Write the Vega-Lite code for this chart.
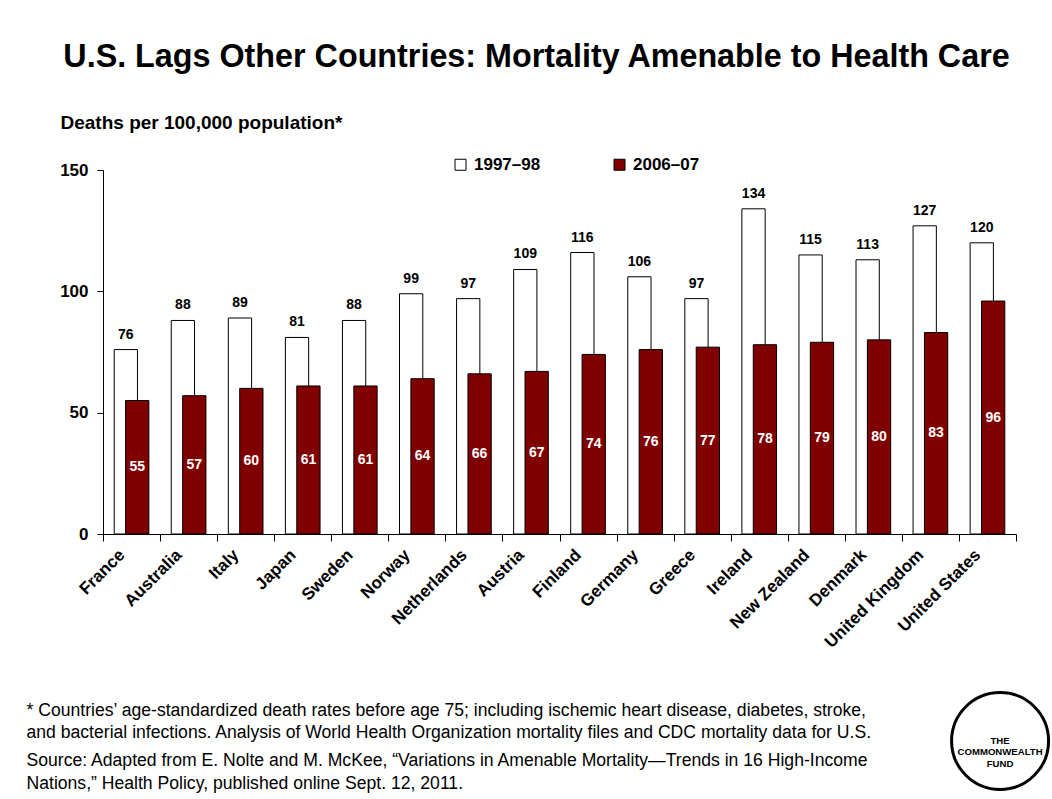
{
  "$schema": "https://vega.github.io/schema/vega-lite/v6.json",
  "width": 913,
  "height": 364,
  "autosize": {"type": "none"},
  "padding": {"left": 103, "top": 170, "right": 36, "bottom": 265},
  "background": "white",
  "config": {
    "font": "Liberation Sans",
    "view": {"stroke": null},
    "axis": {"labelColor": "black", "titleColor": "black", "domainColor": "black", "tickColor": "black", "grid": false}
  },
  "title": {
    "text": "U.S. Lags Other Countries: Mortality Amenable to Health Care",
    "fontSize": 32.3,
    "fontWeight": "bold",
    "color": "black",
    "anchor": "middle",
    "dx": -23,
    "dy": -36
  },
  "data": {
    "values": [
      {"country": "France", "period": "1997–98", "value": 76},
      {"country": "Australia", "period": "1997–98", "value": 88},
      {"country": "Italy", "period": "1997–98", "value": 89},
      {"country": "Japan", "period": "1997–98", "value": 81},
      {"country": "Sweden", "period": "1997–98", "value": 88},
      {"country": "Norway", "period": "1997–98", "value": 99},
      {"country": "Netherlands", "period": "1997–98", "value": 97},
      {"country": "Austria", "period": "1997–98", "value": 109},
      {"country": "Finland", "period": "1997–98", "value": 116},
      {"country": "Germany", "period": "1997–98", "value": 106},
      {"country": "Greece", "period": "1997–98", "value": 97},
      {"country": "Ireland", "period": "1997–98", "value": 134},
      {"country": "New Zealand", "period": "1997–98", "value": 115},
      {"country": "Denmark", "period": "1997–98", "value": 113},
      {"country": "United Kingdom", "period": "1997–98", "value": 127},
      {"country": "United States", "period": "1997–98", "value": 120},
      {"country": "France", "period": "2006–07", "value": 55},
      {"country": "Australia", "period": "2006–07", "value": 57},
      {"country": "Italy", "period": "2006–07", "value": 60},
      {"country": "Japan", "period": "2006–07", "value": 61},
      {"country": "Sweden", "period": "2006–07", "value": 61},
      {"country": "Norway", "period": "2006–07", "value": 64},
      {"country": "Netherlands", "period": "2006–07", "value": 66},
      {"country": "Austria", "period": "2006–07", "value": 67},
      {"country": "Finland", "period": "2006–07", "value": 74},
      {"country": "Germany", "period": "2006–07", "value": 76},
      {"country": "Greece", "period": "2006–07", "value": 77},
      {"country": "Ireland", "period": "2006–07", "value": 78},
      {"country": "New Zealand", "period": "2006–07", "value": 79},
      {"country": "Denmark", "period": "2006–07", "value": 80},
      {"country": "United Kingdom", "period": "2006–07", "value": 83},
      {"country": "United States", "period": "2006–07", "value": 96}
    ]
  },
  "layer": [
    {
      "layer": [
        {
          "transform": [{"filter": "datum.period === '1997–98'"}],
          "mark": {"type": "bar", "width": {"band": 0.408}, "xOffset": -5.7, "stroke": "black", "strokeWidth": 1},
          "encoding": {
            "x": {
              "field": "country", "type": "nominal", "sort": null,
              "scale": {"paddingInner": 0, "paddingOuter": 0},
              "axis": {
                "title": ["* Countries’ age-standardized death rates before age 75; including ischemic heart disease, diabetes, stroke,", "and bacterial infections. Analysis of World Health Organization mortality files and CDC mortality data for U.S."],
                "titleFontSize": 17.6, "titleFontWeight": "normal", "titleAlign": "left", "titleAnchor": "start",
                "titleX": -77, "titleY": 181, "titleBaseline": "alphabetic", "titleLineHeight": 22.5,
                "labelAngle": -45, "labelAlign": "right", "labelBaseline": "middle",
                "labelFontSize": 17, "labelFontWeight": "bold", "labelOffset": -10, "labelPadding": 11,
                "tickBand": "extent", "tickSize": 7
              }
            },
            "y": {
              "field": "value", "type": "quantitative",
              "scale": {"domain": [0, 150], "nice": false},
              "axis": {
                "values": [0, 50, 100, 150],
                "title": "Deaths per 100,000 population*",
                "titleAngle": 0, "titleAlign": "left", "titleBaseline": "alphabetic",
                "titleX": -43, "titleY": -42, "titleFontSize": 19, "titleFontWeight": "bold",
                "labelFontSize": 17, "labelFontWeight": "bold", "labelPadding": 9, "tickSize": 6
              }
            },
            "color": {
              "field": "period", "type": "nominal",
              "scale": {"domain": ["1997–98", "2006–07"], "range": ["white", "#800000"]},
              "legend": {
                "orient": "none", "legendX": 349, "legendY": -14, "direction": "horizontal",
                "title": null, "symbolType": "square", "symbolSize": 121,
                "symbolStrokeColor": "black", "symbolStrokeWidth": 1,
                "labelFontSize": 17, "labelFontWeight": "bold", "labelColor": "black",
                "columnPadding": 70, "labelOffset": 5, "padding": 0
              }
            }
          }
        },
        {
          "transform": [{"filter": "datum.period === '2006–07'"}],
          "mark": {"type": "bar", "width": {"band": 0.408}, "xOffset": 5.7, "stroke": "black", "strokeWidth": 1},
          "encoding": {
            "x": {"field": "country", "type": "nominal", "sort": null},
            "y": {"field": "value", "type": "quantitative"},
            "color": {"field": "period", "type": "nominal"}
          }
        },
        {
          "transform": [{"filter": "datum.period === '1997–98'"}],
          "mark": {"type": "text", "xOffset": -5.7, "dy": -11, "baseline": "alphabetic", "fontSize": 14, "fontWeight": "bold", "color": "black"},
          "encoding": {
            "x": {"field": "country", "type": "nominal", "sort": null},
            "y": {"field": "value", "type": "quantitative"},
            "text": {"field": "value", "type": "quantitative"}
          }
        },
        {
          "transform": [{"filter": "datum.period === '2006–07'"}, {"calculate": "datum.value / 2", "as": "mid"}],
          "mark": {"type": "text", "xOffset": 5.7, "baseline": "middle", "fontSize": 14, "fontWeight": "bold", "color": "white"},
          "encoding": {
            "x": {"field": "country", "type": "nominal", "sort": null},
            "y": {"field": "mid", "type": "quantitative"},
            "text": {"field": "value", "type": "quantitative"}
          }
        }
      ]
    },
    {
      "data": {"values": [{"org": "THE COMMONWEALTH FUND"}]},
      "layer": [
        {
          "mark": {"type": "point", "shape": "circle", "size": 9409, "filled": false, "stroke": "black", "strokeWidth": 3, "opacity": 1, "xOffset": 12.6},
          "encoding": {
            "x": {"datum": "United States", "type": "nominal"},
            "y": {
              "datum": -85.3, "type": "quantitative",
              "scale": {"domain": [0, 150], "nice": false},
              "axis": {
                "orient": "right", "labels": false, "ticks": false, "domain": false, "grid": false,
                "title": ["Source: Adapted from E. Nolte and M. McKee, “Variations in Amenable Mortality—Trends in 16 High-Income", "Nations,” Health Policy, published online Sept. 12, 2011."],
                "titleAngle": 0, "titleAlign": "left", "titleAnchor": "start", "titleBaseline": "alphabetic",
                "titleX": -990, "titleY": 595, "titleFontSize": 17.6, "titleFontWeight": "normal", "titleLineHeight": 23
              }
            }
          }
        },
        {
          "mark": {"type": "text", "text": ["THE", "COMMONWEALTH", "FUND"], "fontSize": 9.6, "fontWeight": "bold", "lineHeight": 11.5, "baseline": "middle", "align": "center", "xOffset": 12.6, "color": "black"},
          "encoding": {
            "x": {"datum": "United States", "type": "nominal"},
            "y": {"datum": -85.3, "type": "quantitative"}
          }
        }
      ]
    }
  ],
  "resolve": {"scale": {"y": "independent"}, "axis": {"y": "independent"}}
}
